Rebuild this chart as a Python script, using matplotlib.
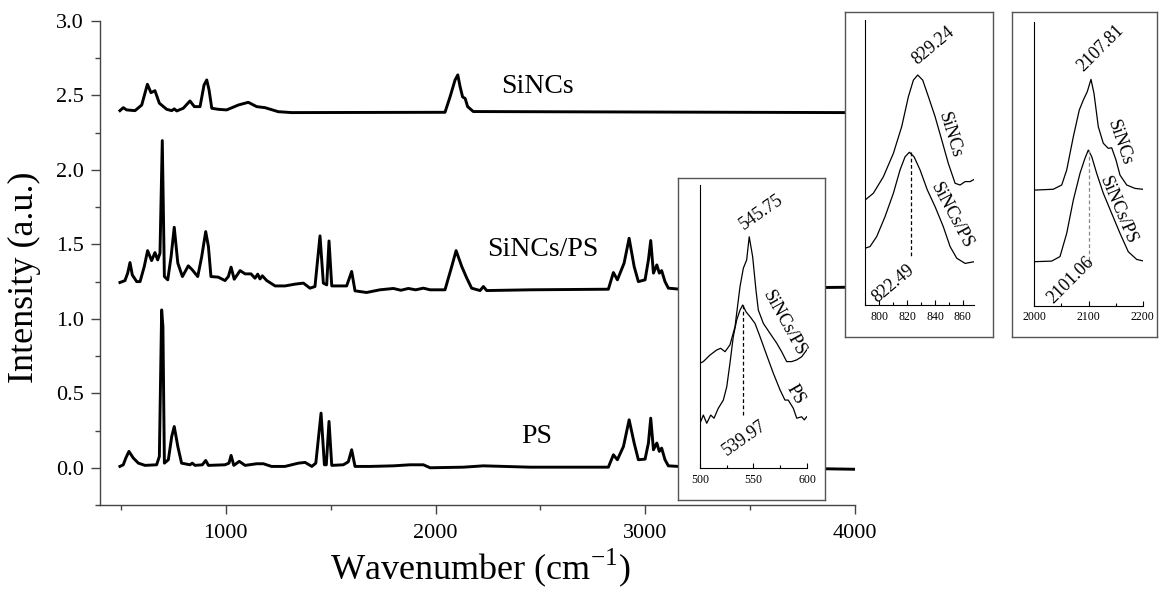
import matplotlib
matplotlib.use("Agg")
import matplotlib.pyplot as plt
from matplotlib.ticker import MultipleLocator

plt.rcParams['font.family'] = ['Liberation Serif', 'DejaVu Serif']
plt.rcParams['mathtext.fontset'] = 'custom'
plt.rcParams['mathtext.rm'] = 'Liberation Serif'

# ---- main spectra (wavenumber, intensity) ----
sincs_x = [495, 511, 527, 567, 599, 626, 643, 662, 683, 718, 742, 754, 766, 797, 829, 850,
           877, 896, 909, 920, 933, 964, 1004, 1060, 1107, 1147, 1187, 1250, 1314, 2045,
           2069, 2093, 2106, 2117, 2129, 2141, 2153, 2180, 3950]
sincs_y = [2.398, 2.418, 2.403, 2.398, 2.436, 2.575, 2.519, 2.532, 2.448, 2.407, 2.398, 2.410,
           2.396, 2.414, 2.463, 2.425, 2.425, 2.570, 2.604, 2.537, 2.414, 2.407, 2.403, 2.436,
           2.454, 2.425, 2.418, 2.391, 2.385, 2.387, 2.490, 2.604, 2.638, 2.559, 2.490, 2.480,
           2.425, 2.392, 2.385]

sincs_ps_x = [495, 519, 532, 543, 554, 575, 591, 611, 627, 646, 662, 675, 686, 697, 707, 723,
              739, 754, 771, 793, 821, 840, 866, 885, 904, 917, 929, 964, 996, 1012, 1025,
              1040, 1068, 1092, 1120, 1139, 1152, 1163, 1174, 1195, 1235, 1282, 1330, 1370,
              1401, 1425, 1449, 1465, 1481, 1492, 1505, 1576, 1600, 1616, 1671, 1735, 1799,
              1835, 1870, 1905, 1942, 1974, 2045, 2077, 2098, 2125, 2149, 2172, 2212, 2228,
              2244, 2451, 2824, 2848, 2867, 2899, 2923, 2947, 2967, 2999, 3015, 3026, 3039,
              3055, 3067, 3078, 3094, 3110, 3158, 3950]
sincs_ps_y = [1.244, 1.257, 1.307, 1.378, 1.295, 1.250, 1.250, 1.351, 1.458, 1.391, 1.445,
              1.396, 1.441, 2.197, 1.284, 1.262, 1.418, 1.615, 1.374, 1.284, 1.356, 1.329,
              1.284, 1.418, 1.586, 1.485, 1.284, 1.280, 1.257, 1.284, 1.347, 1.266, 1.324,
              1.302, 1.302, 1.273, 1.300, 1.268, 1.289, 1.257, 1.221, 1.221, 1.233, 1.240,
              1.206, 1.217, 1.557, 1.240, 1.228, 1.523, 1.221, 1.221, 1.318, 1.188, 1.177,
              1.195, 1.204, 1.192, 1.204, 1.195, 1.206, 1.195, 1.195, 1.351, 1.458, 1.351,
              1.273, 1.206, 1.190, 1.217, 1.190, 1.195, 1.199, 1.311, 1.262, 1.374, 1.541,
              1.351, 1.250, 1.262, 1.396, 1.526, 1.307, 1.362, 1.307, 1.324, 1.250, 1.206,
              1.200, 1.212]

ps_x = [495, 511, 523, 538, 559, 583, 615, 670, 683, 694, 700, 707, 726, 742, 754, 771, 789,
        829, 840, 853, 888, 904, 917, 996, 1015, 1025, 1038, 1064, 1092, 1147, 1179, 1218,
        1282, 1346, 1378, 1410, 1429, 1454, 1470, 1479, 1492, 1505, 1560, 1584, 1600, 1616,
        1688, 1799, 1878, 1942, 1974, 2133, 2228, 2451, 2824, 2848, 2867, 2896, 2923, 2947,
        2967, 2999, 3015, 3026, 3039, 3055, 3067, 3078, 3094, 3110, 3158, 4000]
ps_y = [0.009, 0.020, 0.065, 0.110, 0.065, 0.031, 0.016, 0.020, 0.076, 1.060, 0.948, 0.031,
        0.054, 0.210, 0.277, 0.143, 0.031, 0.020, 0.031, 0.016, 0.020, 0.049, 0.016, 0.020,
        0.031, 0.083, 0.016, 0.043, 0.016, 0.027, 0.027, 0.009, 0.009, 0.031, 0.036, 0.009,
        0.031, 0.367, 0.020, 0.020, 0.311, 0.016, 0.020, 0.040, 0.121, 0.009, 0.009, 0.013,
        0.020, 0.020, 0.000, 0.004, 0.013, 0.004, 0.004, 0.087, 0.054, 0.143, 0.322, 0.166,
        0.054, 0.058, 0.166, 0.333, 0.121, 0.166, 0.110, 0.132, 0.054, 0.013, 0.009, -0.010]

# ---- inset 1 : 500-600 cm-1 (arbitrary offset units) ----
in1_sps_x = [500, 503.1, 509.3, 515.6, 519.3, 523.4, 528, 532.7, 537.4, 540.5, 543.6, 546,
             549.2, 552.3, 554.5, 559.2, 565.4, 571.7, 576.3, 581, 585.7, 590.4, 595, 599.7]
in1_sps_y = [37.0, 37.6, 39.9, 41.7, 42.3, 41.1, 43.5, 49.9, 64.1, 70.6, 73.5, 81.7, 74.7,
             62.9, 55.8, 51.1, 47.6, 44.1, 41.1, 37.6, 37.6, 38.2, 39.3, 41.7]
in1_ps_x = [500, 503.1, 506.3, 510, 513.1, 517.1, 521.8, 525, 528, 531.1, 534.3, 537.4,
            539.9, 543, 546.7, 551.4, 556.1, 562.3, 568.5, 574.8, 579.4, 582.5, 587.2,
            590.4, 595, 597.5, 599.7]
in1_ps_y = [15.8, 18.7, 15.8, 18.7, 17.6, 21.1, 24.0, 28.7, 37.0, 46.4, 52.3, 55.8, 57.6,
            55.2, 53.5, 51.1, 46.4, 39.9, 33.5, 27.6, 24.0, 24.0, 21.1, 17.6, 18.1, 17.0, 18.1]

# ---- inset 2 : 790-868 cm-1 ----
in2_s_x = [789.7, 795.7, 802.9, 810.1, 816.1, 820.9, 824.5, 827.6, 831.2, 835.3, 840.1,
           844.9, 849.6, 854.5, 858.1, 861.7, 865.3, 868.3]
in2_s_y = [36.8, 39.2, 45.0, 53.2, 62.6, 73.1, 78.9, 80.7, 78.9, 73.1, 66.1, 57.9, 49.7,
           42.7, 42.1, 43.3, 43.3, 44.1]
in2_sps_x = [789.7, 793.3, 798.1, 804.1, 810.1, 814.9, 818.5, 821.6, 825, 829.3, 834.5,
             840.1, 846, 850.9, 855.7, 861.7, 868.3]
in2_sps_y = [19.9, 20.5, 24.0, 31.0, 39.2, 47.4, 52.0, 53.6, 52.0, 47.4, 40.4, 34.5, 27.5,
             20.5, 16.4, 14.6, 15.2]

# ---- inset 3 : 2000-2200 cm-1 ----
in3_s_x = [2000, 2035, 2050.6, 2059.8, 2072, 2083, 2090.4, 2097.8, 2104.6, 2110.1, 2118.1,
           2127.3, 2136.5, 2142.8, 2150.7, 2158.1, 2170.5, 2185.8, 2200]
in3_s_y = [40.7, 41.0, 42.5, 47.8, 59.5, 68.9, 72.4, 75.4, 79.7, 74.8, 63.0, 57.2, 55.4,
           55.6, 51.3, 46.0, 42.5, 41.3, 41.0]
in3_sps_x = [2000, 2032, 2047.4, 2059.8, 2072, 2084.3, 2093.5, 2099.6, 2105.9, 2115.1,
             2127.3, 2142.8, 2158.1, 2173.4, 2188.9, 2200]
in3_sps_y = [15.5, 15.7, 17.3, 25.5, 37.2, 46.6, 51.9, 54.8, 52.5, 46.6, 39.6, 32.5, 25.5,
             19.0, 16.3, 15.8]

spine_col = '#444444'
ann_fs = 13

fig = plt.figure(figsize=(11.61, 5.90), dpi=100)
ax = fig.add_axes([100 / 1161, 1 - 505 / 590, 755 / 1161, 484 / 590])

for xs, ys in [(sincs_x, sincs_y), (sincs_ps_x, sincs_ps_y), (ps_x, ps_y)]:
    ax.plot(xs, ys, color='black', lw=2.1, solid_joinstyle='round')

ax.set_xlim(400, 4000)
ax.set_ylim(-0.25, 3.0)
ax.xaxis.set_major_locator(MultipleLocator(1000))
ax.xaxis.set_minor_locator(MultipleLocator(500))
ax.yaxis.set_major_locator(MultipleLocator(0.5))
ax.yaxis.set_minor_locator(MultipleLocator(0.25))
ax.yaxis.set_major_formatter(plt.FormatStrFormatter('%.1f'))
ax.tick_params(which='major', direction='out', length=6.5, width=1, color=spine_col,
               labelsize=16, pad=5)
ax.tick_params(axis='x', which='major', pad=7)
ax.tick_params(which='minor', direction='out', length=3.5, width=1, color=spine_col)
for side in ['top', 'right']:
    ax.spines[side].set_visible(False)
for side in ['left', 'bottom']:
    ax.spines[side].set_color(spine_col)
    ax.spines[side].set_linewidth(1.0)

ax.set_xlabel('Wavenumber (cm$^{\\mathregular{-1}}$)', fontsize=26, va='top')
ax.xaxis.set_label_coords(0.503, -0.086)
ax.set_ylabel('Intensity (a.u.)', fontsize=26)
ax.yaxis.set_label_coords(-0.078, 0.471)

ax.text(2484, 2.557, 'SiNCs', fontsize=20, ha='center', va='center')
ax.text(2513, 1.463, 'SiNCs/PS', fontsize=20, ha='center', va='center')
ax.text(2484, 0.208, 'PS', fontsize=20, ha='center', va='center')


def make_inset(box, inner, xlim, major, minor):
    bx = fig.add_axes(box)
    bx.set_xticks([])
    bx.set_yticks([])
    bx.set_facecolor('white')
    for s in bx.spines.values():
        s.set_color('#555555')
        s.set_linewidth(1.0)
    ia = fig.add_axes(inner)
    ia.patch.set_alpha(0)
    ia.set_xlim(*xlim)
    ia.set_ylim(0, 100)
    ia.set_yticks([])
    ia.xaxis.set_major_locator(MultipleLocator(major))
    ia.xaxis.set_minor_locator(MultipleLocator(minor))
    ia.tick_params(which='major', direction='in', length=3.5, width=0.8, labelsize=8.5, pad=4)
    ia.tick_params(which='minor', direction='in', length=2.5, width=0.8)
    for side in ['top', 'right']:
        ia.spines[side].set_visible(False)
    for side in ['left', 'bottom']:
        ia.spines[side].set_linewidth(0.8)
    return ia


# inset 1
ia1 = make_inset([678 / 1161, 1 - 500 / 590, 147 / 1161, 322 / 590],
                 [700 / 1161, 1 - 468 / 590, 107 / 1161, 283 / 590], (500, 600), 50, 25)
ia1.plot(in1_sps_x, in1_sps_y, color='black', lw=0.9)
ia1.plot(in1_ps_x, in1_ps_y, color='black', lw=0.9)
ia1.plot([539.97, 539.97], [57.6, 18.1], color='black', lw=0.9, ls=(0, (3, 2)))
ia1.text(557, 90.5, '545.75', fontsize=ann_fs, rotation=35, ha='center', va='center')
ia1.text(579, 51, 'SiNCs/PS', fontsize=ann_fs, rotation=-61, ha='center', va='center')
ia1.text(589.5, 26, 'PS', fontsize=ann_fs, rotation=-60, ha='center', va='center')
ia1.text(542, 10.5, '539.97', fontsize=ann_fs, rotation=35, ha='center', va='center')

# inset 2
ia2 = make_inset([845 / 1161, 1 - 337 / 590, 148 / 1161, 325 / 590],
                 [865 / 1161, 1 - 305 / 590, 109.3 / 1161, 285 / 590], (789.7, 868.3), 20, 10)
ia2.plot(in2_s_x, in2_s_y, color='black', lw=0.9)
ia2.plot(in2_sps_x, in2_sps_y, color='black', lw=0.9)
ia2.plot([822.49, 822.49], [53.6, 16.4], color='black', lw=0.9, ls=(0, (3, 2)))
ia2.text(838.5, 91, '829.24', fontsize=ann_fs, rotation=40, ha='center', va='center')
ia2.text(851, 59.5, 'SiNCs', fontsize=ann_fs, rotation=-73, ha='center', va='center')
ia2.text(852, 31.5, 'SiNCs/PS', fontsize=ann_fs, rotation=-62, ha='center', va='center')
ia2.text(810, 7.5, '822.49', fontsize=ann_fs, rotation=40, ha='center', va='center')

# inset 3
ia3 = make_inset([1011.7 / 1161, 1 - 337 / 590, 145 / 1161, 325.3 / 590],
                 [1034.3 / 1161, 1 - 305.7 / 590, 108.4 / 1161, 284 / 590], (2000, 2200), 100, 50)
ia3.plot(in3_s_x, in3_s_y, color='black', lw=0.9)
ia3.plot(in3_sps_x, in3_sps_y, color='black', lw=0.9)
ia3.plot([2101.06, 2101.06], [54.8, 13.0], color='#888888', lw=0.9, ls=(0, (3, 2)))
ia3.text(2122, 90.5, '2107.81', fontsize=ann_fs, rotation=45, ha='center', va='center')
ia3.text(2157, 57.5, 'SiNCs', fontsize=ann_fs, rotation=-71, ha='center', va='center')
ia3.text(2155, 33.5, 'SiNCs/PS', fontsize=ann_fs, rotation=-67, ha='center', va='center')
ia3.text(2067, 9.0, '2101.06', fontsize=ann_fs, rotation=45, ha='center', va='center')

fig.savefig('out.png', dpi=100)
